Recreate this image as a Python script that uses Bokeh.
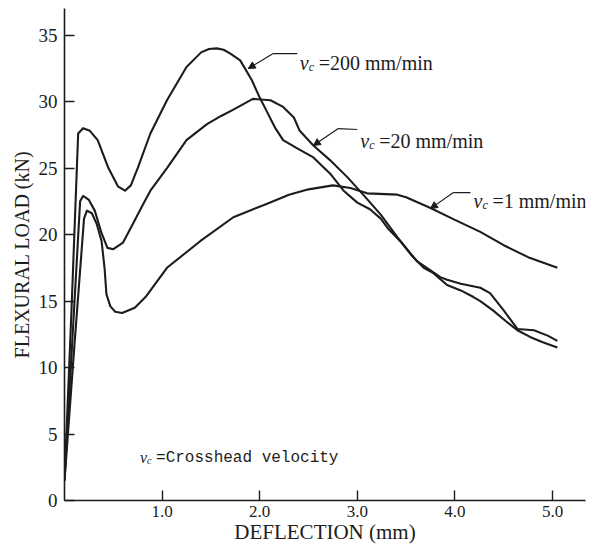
from bokeh.plotting import figure
from bokeh.models import Range1d, FixedTicker, Arrow, NormalHead
from bokeh.core.properties import value
from bokeh.embed import file_html
from bokeh.resources import INLINE

# ---- data ----
x200 = [0.00, 0.07, 0.14, 0.19, 0.26, 0.34, 0.45, 0.55, 0.62, 0.68, 0.75, 0.88, 1.05, 1.25, 1.40, 1.48, 1.56, 1.63, 1.70, 1.80,
        1.92, 2.00, 2.07, 2.16, 2.24, 2.38, 2.55, 2.72, 2.86, 3.00, 3.13, 3.24, 3.31, 3.44, 3.56, 3.68, 3.78, 3.92, 4.06, 4.19,
        4.26, 4.39, 4.52, 4.64, 4.77, 4.90, 5.05]
y200 = [1.5, 14.0, 27.6, 28.0, 27.8, 27.1, 25.0, 23.6, 23.3, 23.7, 25.0, 27.6, 30.1, 32.6, 33.7, 33.95, 34.0, 33.9, 33.6, 33.1,
        31.6, 30.3, 29.3, 28.0, 27.1, 26.5, 25.8, 24.6, 23.3, 22.4, 21.9, 21.2, 20.5, 19.5, 18.4, 17.5, 17.1, 16.2, 15.8, 15.3,
        15.0, 14.3, 13.5, 12.8, 12.3, 11.9, 11.5]

x20 = [0.00, 0.08, 0.16, 0.19, 0.25, 0.31, 0.38, 0.44, 0.50, 0.60, 0.70, 0.80, 0.88, 1.05, 1.25, 1.46, 1.60, 1.73, 1.93, 2.11,
       2.24, 2.35, 2.41, 2.55, 2.72, 2.90, 3.06, 3.24, 3.41, 3.61, 3.75, 3.85, 3.92, 4.06, 4.26, 4.36, 4.50, 4.64, 4.81, 4.95,
       5.05]
y20 = [1.5, 12.0, 22.5, 22.9, 22.6, 21.8, 20.1, 19.0, 18.9, 19.4, 20.8, 22.2, 23.3, 25.0, 27.1, 28.3, 28.9, 29.4, 30.2, 30.1,
       29.6, 28.8, 27.8, 26.7, 25.6, 24.3, 23.0, 21.5, 19.8, 18.0, 17.3, 16.8, 16.6, 16.3, 16.0, 15.6, 14.3, 12.9, 12.8, 12.4,
       12.0]

x1 = [0.00, 0.10, 0.20, 0.23, 0.28, 0.33, 0.38, 0.41, 0.43, 0.47, 0.52, 0.59, 0.72, 0.83, 1.05, 1.39, 1.73, 2.07, 2.30, 2.50,
      2.75, 2.93, 3.10, 3.41, 3.50, 3.75, 4.00, 4.26, 4.50, 4.75, 5.05]
y1 = [1.5, 11.5, 21.2, 21.8, 21.6, 20.8, 19.5, 17.5, 15.5, 14.6, 14.2, 14.1, 14.5, 15.3, 17.5, 19.5, 21.3, 22.3, 23.0, 23.4,
      23.7, 23.5, 23.1, 23.0, 22.8, 22.0, 21.1, 20.2, 19.2, 18.3, 17.5]

x_ticks = [1, 2, 3, 4, 5]
x_tick_labels = ["1.0", "2.0", "3.0", "4.0", "5.0"]
y_ticks = [0, 5, 10, 15, 20, 25, 30, 35]

series_labels = ["=200 mm/min", "=20 mm/min", "=1 mm/min"]
note_text = "=Crosshead velocity"

INK = "#1c1c1c"
SERIF = "Liberation Serif"

p = figure(width=595, height=548, x_range=Range1d(0, 5.338), y_range=Range1d(0, 37.0),
           output_backend="svg", toolbar_location=None,
           min_border_left=64, min_border_right=10, min_border_top=8, min_border_bottom=48)
p.outline_line_color = None
p.grid.visible = False
p.background_fill_color = "white"

for xs, ys in [(x200, y200), (x20, y20), (x1, y1)]:
    p.line(xs, ys, line_color=INK, line_width=2.1, line_join="round")

# axes
for ax in (p.xaxis[0], p.yaxis[0]):
    ax.axis_line_color = INK
    ax.axis_line_width = 1.6
    ax.major_tick_line_color = INK
    ax.major_tick_line_width = 1.4
    ax.major_tick_in = 10
    ax.major_tick_out = 0
    ax.minor_tick_line_color = None
    ax.major_label_text_font = SERIF
    ax.major_label_text_color = INK
    ax.axis_label_text_font = SERIF
    ax.axis_label_text_font_style = "normal"
    ax.axis_label_text_color = INK

p.xaxis.ticker = FixedTicker(ticks=x_ticks)
p.xaxis.major_label_overrides = {t: l for t, l in zip(x_ticks, x_tick_labels)}
p.xaxis.major_label_text_font_size = "17px"
p.xaxis.major_label_standoff = 5
p.xaxis.axis_label = "DEFLECTION (mm)"
p.xaxis.axis_label_text_font_size = "21px"
p.xaxis.axis_label_standoff = 0

p.yaxis.ticker = FixedTicker(ticks=y_ticks)
p.yaxis.major_label_text_font_size = "19px"
p.yaxis.major_label_standoff = 7
p.yaxis.axis_label = "FLEXURAL LOAD (kN)"
p.yaxis.axis_label_text_font_size = "20px"
p.yaxis.axis_label_standoff = 3

# ---- curve labels with leader arrows ----
lab_pos = [(2.41, 32.93), (3.03, 27.07), (4.19, 22.56)]
leaders = [[(2.385, 33.61), (2.138, 33.61), (1.882, 32.48)],
           [(3.00, 27.90), (2.805, 27.97), (2.549, 26.69)],
           [(4.159, 23.16), (3.985, 23.16), (3.749, 21.95)]]
for (lx, ly), lead, txt in zip(lab_pos, leaders, series_labels):
    p.line([pt[0] for pt in lead[:2]], [pt[1] for pt in lead[:2]], line_color=INK, line_width=1.2)
    p.add_layout(Arrow(x_start=lead[1][0], y_start=lead[1][1], x_end=lead[2][0], y_end=lead[2][1],
                       line_color=INK, line_width=1.2,
                       end=NormalHead(size=7, fill_color=INK, line_color=INK)))
    p.text([lx], [ly], text=["v"], text_font=value(SERIF), text_font_style="italic",
           text_font_size="20px", text_color=INK, text_baseline="alphabetic")
    p.text([lx], [ly], text=["c"], text_font=value(SERIF), text_font_style="italic",
           text_font_size="12px", text_color=INK, text_baseline="alphabetic", x_offset=9, y_offset=4)
    p.text([lx], [ly], text=[txt], text_font=value(SERIF),
           text_font_size="20px", text_color=INK, text_baseline="alphabetic", x_offset=19)

# note
nx, ny = 0.774, 3.23
p.text([nx], [ny], text=["v"], text_font=value(SERIF), text_font_style="italic",
       text_font_size="16px", text_color=INK, text_baseline="alphabetic")
p.text([nx], [ny], text=["c"], text_font=value(SERIF), text_font_style="italic",
       text_font_size="10px", text_color=INK, text_baseline="alphabetic", x_offset=7, y_offset=3)
p.text([nx], [ny], text=[note_text], text_font=value("Liberation Mono"),
       text_font_size="16px", text_color=INK, text_baseline="alphabetic", x_offset=16)

open("out.html", "w").write(file_html(p, INLINE))
